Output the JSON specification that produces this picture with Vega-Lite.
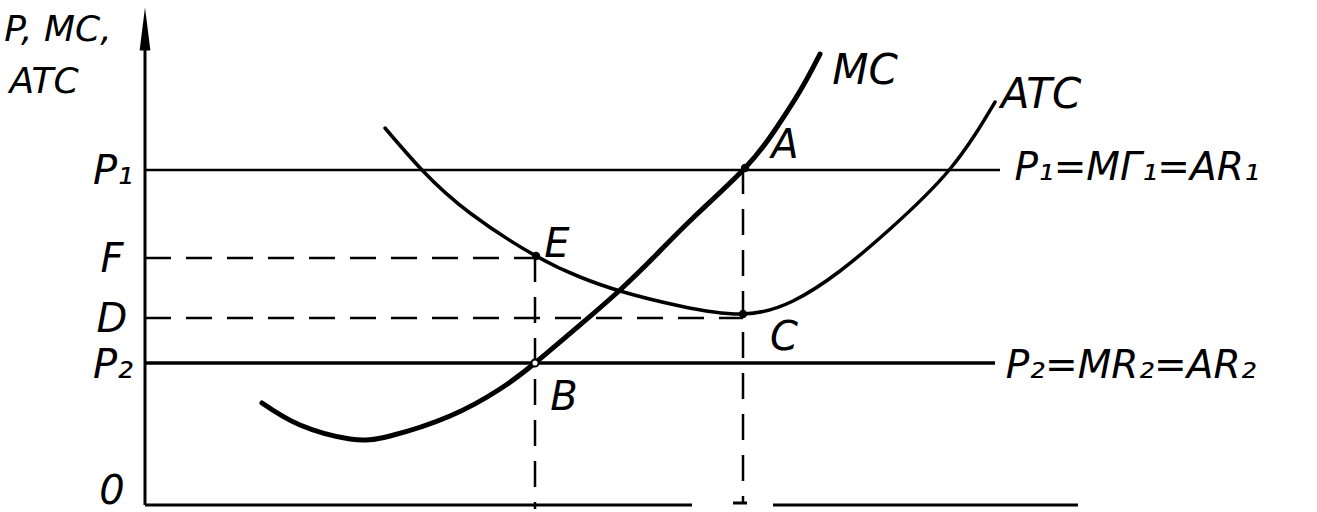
{
  "$schema": "https://vega.github.io/schema/vega-lite/v6.json",
  "width": 1317,
  "height": 512,
  "padding": 0,
  "autosize": {"type": "none"},
  "background": "white",
  "config": {"view": {"stroke": null}},
  "datasets": {
    "curves": [
      {"series": "MC", "q": 117, "p": 102},
      {"series": "MC", "q": 155, "p": 80},
      {"series": "MC", "q": 205, "p": 66},
      {"series": "MC", "q": 245, "p": 69},
      {"series": "MC", "q": 305, "p": 89},
      {"series": "MC", "q": 355, "p": 116},
      {"series": "MC", "q": 390, "p": 142},
      {"series": "MC", "q": 435, "p": 180},
      {"series": "MC", "q": 475, "p": 215},
      {"series": "MC", "q": 512, "p": 251},
      {"series": "MC", "q": 548, "p": 287},
      {"series": "MC", "q": 600, "p": 337},
      {"series": "MC", "q": 630, "p": 375},
      {"series": "MC", "q": 655, "p": 414},
      {"series": "MC", "q": 675, "p": 451},
      {"series": "ATC", "q": 240, "p": 377},
      {"series": "ATC", "q": 277, "p": 335},
      {"series": "ATC", "q": 325, "p": 292},
      {"series": "ATC", "q": 391, "p": 249},
      {"series": "ATC", "q": 435, "p": 228},
      {"series": "ATC", "q": 475, "p": 214},
      {"series": "ATC", "q": 535, "p": 199},
      {"series": "ATC", "q": 598, "p": 191},
      {"series": "ATC", "q": 648, "p": 204},
      {"series": "ATC", "q": 695, "p": 234},
      {"series": "ATC", "q": 745, "p": 276},
      {"series": "ATC", "q": 805, "p": 336},
      {"series": "ATC", "q": 850, "p": 403}
    ],
    "segs": [
      {"kind": "axis", "q": 0, "p": 0, "q2": 0, "p2": 470},
      {"kind": "axis", "q": 0, "p": 0, "q2": 547, "p2": 0},
      {"kind": "axis", "q": 588, "p": 2, "q2": 602, "p2": 2},
      {"kind": "axis", "q": 628, "p": 0, "q2": 933, "p2": 0},
      {"kind": "p1", "q": 0, "p": 335, "q2": 855, "p2": 335},
      {"kind": "p2", "q": 0, "p": 142, "q2": 850, "p2": 142},
      {"kind": "dash", "q": 0, "p": 247, "q2": 391, "p2": 247},
      {"kind": "dash", "q": 0, "p": 187, "q2": 598, "p2": 187},
      {"kind": "dash", "q": 390, "p": 249, "q2": 390, "p2": -4},
      {"kind": "dash", "q": 598, "p": 337, "q2": 598, "p2": 3}
    ],
    "pts": [
      {"name": "E", "q": 391, "p": 249, "open": false},
      {"name": "A", "q": 600, "p": 337, "open": false},
      {"name": "C", "q": 598, "p": 191, "open": false},
      {"name": "B", "q": 390, "p": 142, "open": true}
    ],
    "labels": [
      {"text": "P, MC,", "q": -87, "p": 464, "size": "title"},
      {"text": "ATC", "q": -101, "p": 412, "size": "title"},
      {"text": "P₁", "q": -32, "p": 321, "size": "tick"},
      {"text": "F", "q": -33, "p": 233, "size": "tick"},
      {"text": "D", "q": -33, "p": 173, "size": "tick"},
      {"text": "P₂", "q": -32, "p": 127, "size": "tick"},
      {"text": "0", "q": -33, "p": 1, "size": "tick"},
      {"text": "MC", "q": 720, "p": 421, "size": "curve"},
      {"text": "ATC", "q": 896, "p": 397, "size": "curve"},
      {"text": "A", "q": 640, "p": 347, "size": "point"},
      {"text": "E", "q": 412, "p": 248, "size": "point"},
      {"text": "C", "q": 639, "p": 155, "size": "point"},
      {"text": "B", "q": 419, "p": 95, "size": "point"},
      {"text": "P₁=MГ₁=AR₁", "q": 992, "p": 325, "size": "eq"},
      {"text": "P₂=MR₂=AR₂", "q": 986, "p": 127, "size": "eq"}
    ]
  },
  "encoding": {
    "x": {"field": "q", "type": "quantitative", "scale": {"domain": [-145, 1172], "nice": false, "zero": false}, "axis": null},
    "y": {"field": "p", "type": "quantitative", "scale": {"domain": [-7, 505], "nice": false, "zero": false}, "axis": null}
  },
  "layer": [
    {
      "data": {"name": "segs"},
      "transform": [{"filter": "datum.kind === 'axis'"}],
      "mark": {"type": "rule", "color": "black", "strokeWidth": 3},
      "encoding": {"x2": {"field": "q2"}, "y2": {"field": "p2"}}
    },
    {
      "data": {"name": "segs"},
      "transform": [{"filter": "datum.kind === 'p1'"}],
      "mark": {"type": "rule", "color": "black", "strokeWidth": 2.5},
      "encoding": {"x2": {"field": "q2"}, "y2": {"field": "p2"}}
    },
    {
      "data": {"name": "segs"},
      "transform": [{"filter": "datum.kind === 'p2'"}],
      "mark": {"type": "rule", "color": "black", "strokeWidth": 3.5},
      "encoding": {"x2": {"field": "q2"}, "y2": {"field": "p2"}}
    },
    {
      "data": {"name": "segs"},
      "transform": [{"filter": "datum.kind === 'dash'"}],
      "mark": {"type": "rule", "color": "black", "strokeWidth": 2.5, "strokeDash": [26, 15]},
      "encoding": {"x2": {"field": "q2"}, "y2": {"field": "p2"}}
    },
    {
      "data": {"name": "curves"},
      "transform": [{"filter": "datum.series === 'ATC'"}],
      "mark": {"type": "line", "color": "black", "strokeWidth": 3.5, "interpolate": "natural", "strokeCap": "round"},
      "encoding": {}
    },
    {
      "data": {"name": "curves"},
      "transform": [{"filter": "datum.series === 'MC'"}],
      "mark": {"type": "line", "color": "black", "strokeWidth": 5, "interpolate": "natural", "strokeCap": "round"},
      "encoding": {}
    },
    {
      "data": {"name": "pts"},
      "transform": [{"filter": "!datum.open"}],
      "mark": {"type": "point", "shape": "circle", "filled": true, "color": "black", "size": 70, "opacity": 1},
      "encoding": {}
    },
    {
      "data": {"name": "pts"},
      "transform": [{"filter": "datum.open"}],
      "mark": {"type": "point", "shape": "circle", "filled": true, "fill": "white", "stroke": "black", "strokeWidth": 2, "size": 50, "opacity": 1},
      "encoding": {}
    },
    {
      "data": {"values": [{"q": 0, "p": 476}]},
      "mark": {"type": "point", "shape": "M0,-1L0.25,1L-0.25,1Z", "filled": true, "color": "black", "size": 1850, "opacity": 1},
      "encoding": {}
    },
    {
      "data": {"name": "labels"},
      "transform": [{"filter": "datum.size === 'title'"}],
      "mark": {"type": "text", "font": "DejaVu Sans", "fontStyle": "italic", "fontSize": 36, "align": "center", "baseline": "alphabetic", "color": "black"},
      "encoding": {"text": {"field": "text"}}
    },
    {
      "data": {"name": "labels"},
      "transform": [{"filter": "datum.size === 'tick'"}],
      "mark": {"type": "text", "font": "DejaVu Sans", "fontStyle": "italic", "fontSize": 40, "align": "center", "baseline": "alphabetic", "color": "black"},
      "encoding": {"text": {"field": "text"}}
    },
    {
      "data": {"name": "labels"},
      "transform": [{"filter": "datum.size === 'curve'"}],
      "mark": {"type": "text", "font": "DejaVu Sans", "fontStyle": "italic", "fontSize": 42, "align": "center", "baseline": "alphabetic", "color": "black"},
      "encoding": {"text": {"field": "text"}}
    },
    {
      "data": {"name": "labels"},
      "transform": [{"filter": "datum.size === 'point'"}],
      "mark": {"type": "text", "font": "DejaVu Sans", "fontStyle": "italic", "fontSize": 40, "align": "center", "baseline": "alphabetic", "color": "black"},
      "encoding": {"text": {"field": "text"}}
    },
    {
      "data": {"name": "labels"},
      "transform": [{"filter": "datum.size === 'eq'"}],
      "mark": {"type": "text", "font": "DejaVu Sans", "fontStyle": "italic", "fontSize": 39, "align": "center", "baseline": "alphabetic", "color": "black"},
      "encoding": {"text": {"field": "text"}}
    }
  ]
}
